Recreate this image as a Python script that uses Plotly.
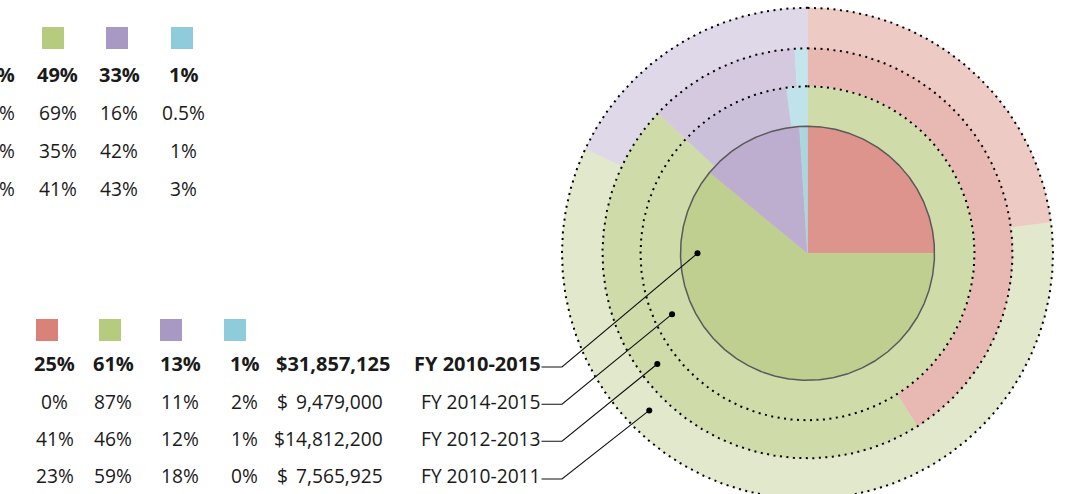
import numpy as np
import plotly.graph_objects as go

W, H = 1069, 494

# ---------------- data ----------------
category_colors = ["#D9827A", "#B7CB7E", "#A899C4", "#8FCCDB"]

period_labels = ["FY 2010-2015", "FY 2014-2015", "FY 2012-2013", "FY 2010-2011"]
period_amounts = [31857125, 9479000, 14812200, 7565925]
share_2010_2015 = [25, 61, 13, 1]
share_2014_2015 = [0, 87, 11, 2]
share_2012_2013 = [41, 46, 12, 1]
share_2010_2011 = [23, 59, 18, 0]

# upper table (cropped at the left edge of the picture)
upper_red = [17, 15, 22, 13]
upper_green = [49, 69, 35, 41]
upper_purple = [33, 16, 42, 43]
upper_blue = [1, 0.5, 1, 3]

# ---------------- style / layout ----------------
FONT = "Open Sans"
FS = 19.2
FS_BOLD = 20
CX, CY = 807.5, 253.3
ring_radii = [(0, 127), (127, 167), (167, 205), (205, 245.5)]
ring_fills = [
    ["#DD948C", "#BFCF8F", "#BDADCE", "#ABD6E0"],
    ["#E6B2AC", "#D0DBAA", "#CBC0DA", "#C0E2EA"],
    ["#E8B9B3", "#D0DBAA", "#D4C9DF", "#C5E5EC"],
    ["#EECAC5", "#E2E8CC", "#DFD8E8", "#CDE9EF"],
]
ring_shares = [share_2010_2015, share_2014_2015, share_2012_2013, share_2010_2011]

callout_r = [110, 148.5, 186.6, 223]
callout_deg = [270, 245.8, 233.6, 225.2]
row_y = [367, 404.3, 441.3, 479]
label_right = 543
line_start = 541.5
bend_x = 562

low_cols = [54.5, 113, 180, 244]
low_squares = [47, 110, 171, 235]
low_sq_y = 330
up_cols = [None, 57.8, 119.2, 183]
up_squares = [-9, 53, 117, 182]
up_sq_y = 38
up_rows = [74.3, 112, 150.3, 188.7]


def pct(v):
    return f"{v:g}%"


def sector(r0, r1, a0, a1):
    n = max(int((a1 - a0) / 0.5) + 2, 3)
    t = np.radians(np.linspace(a0, a1, n))
    xo = CX + r1 * np.sin(t)
    yo = CY - r1 * np.cos(t)
    if r0 > 0:
        xi = CX + r0 * np.sin(t[::-1])
        yi = CY - r0 * np.cos(t[::-1])
    else:
        xi = np.array([CX])
        yi = np.array([CY])
    return np.concatenate([xo, xi, xo[:1]]), np.concatenate([yo, yi, yo[:1]])


fig = go.Figure()

# rings (outermost first)
for k in range(len(ring_shares) - 1, -1, -1):
    shares = ring_shares[k]
    r0, r1 = ring_radii[k]
    ends = np.cumsum(shares) / sum(shares) * 360.0
    starts = np.concatenate([[0], ends[:-1]])
    for j, (a0, a1) in enumerate(zip(starts, ends)):
        if a1 - a0 <= 0:
            continue
        xs, ys = sector(r0, r1, a0, a1)
        fig.add_trace(go.Scatter(
            x=xs, y=ys, mode="lines", fill="toself",
            fillcolor=ring_fills[k][j],
            line=dict(color=ring_fills[k][j], width=0.6),
            hoverinfo="skip", showlegend=False))

# dotted ring borders
tt = np.radians(np.linspace(0, 360, 721))
for k in range(1, len(ring_radii)):
    r = ring_radii[k][1]
    fig.add_trace(go.Scatter(
        x=CX + r * np.sin(tt), y=CY - r * np.cos(tt), mode="lines",
        line=dict(color="#000000", width=2, dash="2px,4.5px"),
        hoverinfo="skip", showlegend=False))

# inner pie outline
r = ring_radii[0][1]
fig.add_trace(go.Scatter(
    x=CX + r * np.sin(tt), y=CY - r * np.cos(tt), mode="lines",
    line=dict(color="#5a5a5a", width=1.5),
    hoverinfo="skip", showlegend=False))

# leader lines with dots
for i in range(len(period_labels)):
    th = np.radians(callout_deg[i])
    dx = CX + callout_r[i] * np.sin(th)
    dy = CY - callout_r[i] * np.cos(th)
    fig.add_trace(go.Scatter(
        x=[line_start, bend_x, dx], y=[row_y[i], row_y[i], dy],
        mode="lines", line=dict(color="#111111", width=1.1),
        hoverinfo="skip", showlegend=False))
    fig.add_trace(go.Scatter(
        x=[dx], y=[dy], mode="markers",
        marker=dict(color="#000000", size=6),
        hoverinfo="skip", showlegend=False))

# legend squares
fig.add_trace(go.Scatter(
    x=low_squares, y=[low_sq_y] * 4, mode="markers",
    marker=dict(symbol="square", size=22, color=category_colors, line=dict(width=0)),
    hoverinfo="skip", showlegend=False, cliponaxis=False))
fig.add_trace(go.Scatter(
    x=up_squares, y=[up_sq_y] * 4, mode="markers",
    marker=dict(symbol="square", size=22, color=category_colors, line=dict(width=0)),
    hoverinfo="skip", showlegend=False, cliponaxis=False))

ann = []


def add_text(x, y, text, bold=False, anchor="center", xshift=0):
    ann.append(dict(
        x=x, y=y, xref="x", yref="y", text=text, showarrow=False,
        xanchor=anchor, yanchor="middle", xshift=xshift,
        font=dict(family=FONT, size=FS_BOLD if bold else FS, color="#1a1a1a",
                  weight="bold" if bold else "normal")))


# lower table
for i in range(len(period_labels)):
    bold = i == 0
    y = row_y[i] - 3.2
    for j in range(4):
        add_text(low_cols[j], y, pct(ring_shares[i][j]), bold)
    num = f"{period_amounts[i]:,}"
    if bold:
        add_text(274, y, "$" + num, bold, "left")
    elif len(num) >= 10:
        add_text(385, y, "$" + num, bold, "right")
    else:
        add_text(275, y, "$", bold, "left")
        add_text(385, y, num, bold, "right")
    add_text(label_right, y, period_labels[i], bold, "right")

# upper table
upper = [upper_red, upper_green, upper_purple, upper_blue]
for i in range(4):
    bold = i == 0
    add_text(0, up_rows[i], pct(upper[0][i]), bold, "right", xshift=16.5)
    for j in range(1, 4):
        add_text(up_cols[j], up_rows[i], pct(upper[j][i]), bold)

fig.update_layout(
    width=W, height=H,
    margin=dict(l=0, r=0, t=0, b=0),
    paper_bgcolor="white", plot_bgcolor="white",
    xaxis=dict(range=[0, W], visible=False, fixedrange=True),
    yaxis=dict(range=[H, 0], visible=False, fixedrange=True),
    annotations=ann,
    hovermode=False,
    showlegend=False,
)

fig.write_html(
    "out.html",
    config={"displayModeBar": False},
    post_script="document.body.style.margin='0px';document.body.style.overflow='hidden';",
)
